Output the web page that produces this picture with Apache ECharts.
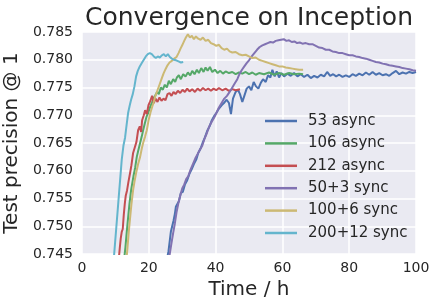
<!DOCTYPE html>
<html>
<head>
<meta charset="utf-8">
<script src="https://cdn.jsdelivr.net/npm/echarts@6/dist/echarts.min.js"></script>
<style>html,body{margin:0;padding:0;background:#fff}#c{width:437px;height:307px}</style>
</head>
<body>
<div id="c"></div>
<script>
const seriesNames = ['53 async', '106 async', '212 async', '50+3 sync', '100+6 sync', '200+12 sync'];
const xTicks = [0, 20, 40, 60, 80, 100];
const yTicks = [0.745, 0.750, 0.755, 0.760, 0.765, 0.770, 0.775, 0.780, 0.785];

const async53 = [[25.4,0.744],[25.9,0.7455],[26.3,0.7475],[26.6,0.7490],[27.0,0.7488],[27.4,0.7510],[27.8,0.7522],[28.1,0.7535],[28.6,0.7532],[29.0,0.7545],[29.6,0.7560],[30.2,0.7562],[30.8,0.7575],[31.5,0.7583],[32.2,0.7595],[32.8,0.7602],[33.5,0.7612],[34.2,0.7620],[34.8,0.7632],[35.5,0.7640],[36.1,0.7650],[36.8,0.7660],[37.5,0.7672],[38.2,0.7680],[38.8,0.7690],[39.5,0.7698],[40.3,0.7705],[41.0,0.7712],[41.8,0.7718],[42.5,0.7722],[43.3,0.7728],[44.0,0.7722],[44.6,0.7702],[45.2,0.7730],[46.0,0.7742],[46.7,0.7746],[47.3,0.7738],[48.0,0.7724],[48.6,0.7735],[49.3,0.7748],[50.0,0.7752],[50.7,0.7745],[51.4,0.7760],[52.1,0.7752],[52.8,0.7748],[53.5,0.7758],[54.2,0.7765],[55.0,0.7760],[55.7,0.7772],[56.4,0.7768],[57.0,0.7782],[57.7,0.7770],[58.3,0.7779],[59.0,0.7768],[59.7,0.7776],[60.5,0.7770],[61.5,0.7775],[62.5,0.7771],[63.5,0.7776],[64.5,0.7770],[65.5,0.7774],[66.5,0.7769],[67.5,0.7773],[68.5,0.7767],[69.5,0.7771],[70.5,0.7768],[71.5,0.7773],[72.5,0.7770],[73.4,0.7778],[74.3,0.7771],[75.2,0.7774],[76.1,0.7770],[77.0,0.7773],[78.0,0.7769],[79.0,0.7772],[80.0,0.7769],[81.0,0.7774],[82.0,0.7771],[83.0,0.7775],[84.0,0.7772],[85.0,0.7777],[86.0,0.7773],[87.0,0.7778],[88.0,0.7773],[89.0,0.7776],[90.0,0.7772],[91.0,0.7774],[92.0,0.7771],[93.0,0.7776],[94.0,0.7780],[95.0,0.7774],[96.0,0.7777],[97.0,0.7775],[98.0,0.7778],[99.0,0.7776],[100.0,0.7778]];

const async106 = [[12.6,0.744],[13.0,0.7462],[13.4,0.7490],[13.8,0.7515],[14.2,0.7540],[14.7,0.7565],[15.0,0.7568],[15.4,0.7590],[15.9,0.7605],[16.4,0.7625],[16.9,0.7638],[17.4,0.7650],[17.9,0.7662],[18.3,0.7673],[18.8,0.7685],[19.3,0.7697],[19.8,0.7704],[20.4,0.7715],[20.9,0.7722],[21.4,0.7730],[21.9,0.7735],[22.5,0.7742],[23.0,0.7738],[23.6,0.7750],[24.2,0.7746],[24.8,0.7755],[25.4,0.7750],[26.0,0.7762],[26.6,0.7756],[27.3,0.7765],[27.9,0.7760],[28.4,0.7768],[29.0,0.7772],[29.6,0.7765],[30.3,0.7774],[31.0,0.7770],[31.7,0.7777],[32.4,0.7772],[33.0,0.7780],[33.7,0.7774],[34.4,0.7782],[35.0,0.7776],[35.7,0.7785],[36.4,0.7778],[37.0,0.7786],[37.6,0.7780],[38.3,0.7787],[39.0,0.7778],[39.8,0.7782],[40.6,0.7776],[41.4,0.7780],[42.2,0.7775],[43.0,0.7779],[44.0,0.7776],[45.0,0.7778],[46.0,0.7774],[47.0,0.7777],[48.0,0.7775],[49.0,0.7778],[50.0,0.7774],[51.0,0.7777],[52.0,0.7773],[53.0,0.7776],[54.5,0.7774],[56.0,0.7777],[57.5,0.7773],[59.0,0.7776],[60.5,0.7773],[62.0,0.7776],[63.5,0.7774],[65.0,0.7775],[66.2,0.7774]];

const async212 = [[11.0,0.744],[11.3,0.7460],[11.6,0.7478],[11.9,0.7490],[12.2,0.7495],[12.5,0.7520],[12.8,0.7540],[13.1,0.7555],[13.5,0.7565],[13.9,0.7580],[14.4,0.7596],[14.8,0.7610],[15.3,0.7632],[15.8,0.7642],[16.3,0.7652],[16.8,0.7673],[17.3,0.7680],[17.7,0.7670],[18.0,0.7691],[18.5,0.7700],[18.9,0.7709],[19.4,0.7702],[19.9,0.7718],[20.4,0.7725],[21.0,0.7735],[21.5,0.7722],[22.0,0.7730],[22.6,0.7724],[23.2,0.7732],[23.8,0.7726],[24.4,0.7730],[25.0,0.7727],[25.6,0.7738],[26.2,0.7740],[26.8,0.7735],[27.4,0.7742],[28.0,0.7738],[28.7,0.7744],[29.4,0.7740],[30.1,0.7746],[30.8,0.7742],[31.5,0.7748],[32.2,0.7743],[33.0,0.7747],[33.8,0.7742],[34.6,0.7748],[35.4,0.7744],[36.2,0.7749],[37.0,0.7745],[37.8,0.7748],[38.6,0.7744],[39.4,0.7748],[40.2,0.7745],[41.0,0.7749],[42.0,0.7745],[43.0,0.7748],[44.0,0.7744],[45.0,0.7747],[46.0,0.7745],[47.3,0.7747]];

const sync50 = [[26.0,0.744],[26.4,0.7455],[26.8,0.7470],[27.3,0.7488],[27.8,0.7505],[28.3,0.7525],[28.8,0.7540],[29.4,0.7555],[30.0,0.7568],[30.6,0.7575],[31.2,0.7585],[31.8,0.7590],[32.5,0.7602],[33.2,0.7612],[33.9,0.7622],[34.6,0.7630],[35.3,0.7638],[36.0,0.7645],[36.7,0.7658],[37.4,0.7668],[38.1,0.7680],[38.8,0.7688],[39.5,0.7695],[40.3,0.7705],[41.0,0.7714],[41.8,0.7722],[42.6,0.7730],[43.4,0.7735],[44.2,0.7742],[45.0,0.7750],[45.8,0.7758],[46.5,0.7765],[47.2,0.7775],[47.9,0.7782],[48.6,0.7788],[49.3,0.7794],[50.0,0.7799],[50.8,0.7806],[51.6,0.7812],[52.4,0.7818],[53.2,0.7823],[54.0,0.7826],[54.8,0.7828],[55.6,0.7830],[56.4,0.7832],[57.2,0.7831],[58.0,0.7834],[58.8,0.7835],[59.6,0.7836],[60.4,0.7837],[61.2,0.7834],[62.0,0.7835],[62.8,0.7832],[63.6,0.7833],[64.4,0.7830],[65.2,0.7831],[66.0,0.7829],[67.0,0.7830],[68.0,0.7828],[69.0,0.7828],[70.0,0.7825],[71.0,0.7822],[72.0,0.7821],[73.0,0.7818],[74.0,0.7818],[75.0,0.7815],[76.0,0.7814],[77.0,0.7812],[78.0,0.7812],[79.0,0.7810],[80.0,0.7808],[81.0,0.7808],[82.0,0.7806],[83.0,0.7805],[84.0,0.7803],[85.0,0.7802],[86.0,0.7800],[87.0,0.7798],[88.0,0.7796],[89.0,0.7795],[90.0,0.7793],[91.0,0.7792],[92.0,0.7790],[93.0,0.7789],[94.0,0.7788],[95.0,0.7787],[96.0,0.7785],[97.0,0.7784],[98.0,0.7783],[99.0,0.7781],[100.0,0.7780]];

const sync100 = [[13.3,0.744],[13.6,0.7460],[14.0,0.7490],[14.4,0.7515],[14.8,0.7540],[15.3,0.7565],[15.7,0.7580],[16.2,0.7596],[16.8,0.7612],[17.4,0.7625],[17.9,0.7640],[18.3,0.7650],[18.9,0.7662],[19.4,0.7673],[19.9,0.7690],[20.5,0.7705],[21.0,0.7715],[21.4,0.7722],[22.0,0.7735],[22.6,0.7745],[23.2,0.7755],[23.8,0.7765],[24.4,0.7775],[25.0,0.7783],[25.6,0.7790],[26.2,0.7795],[26.9,0.7798],[27.6,0.7802],[28.3,0.7805],[28.9,0.7812],[29.5,0.7820],[30.0,0.7826],[30.6,0.7834],[31.1,0.7840],[31.7,0.7846],[32.3,0.7840],[32.9,0.7843],[33.5,0.7837],[34.1,0.7842],[34.8,0.7838],[35.5,0.7836],[36.2,0.7840],[37.0,0.7834],[37.8,0.7836],[38.6,0.7830],[39.4,0.7828],[40.2,0.7825],[41.0,0.7827],[41.8,0.7821],[42.6,0.7818],[43.4,0.7820],[44.2,0.7815],[45.0,0.7813],[46.0,0.7814],[47.0,0.7810],[48.0,0.7808],[49.0,0.7809],[50.0,0.7806],[51.0,0.7803],[52.0,0.7804],[53.0,0.7800],[54.0,0.7798],[55.0,0.7796],[56.0,0.7794],[57.0,0.7792],[58.0,0.7790],[59.0,0.7788],[60.0,0.7788],[61.0,0.7786],[62.0,0.7785],[63.0,0.7784],[64.0,0.7783],[65.0,0.7782],[66.2,0.7782]];

const sync200 = [[9.5,0.744],[9.9,0.7470],[10.3,0.7500],[10.7,0.7530],[11.1,0.7560],[11.5,0.7590],[11.9,0.7620],[12.4,0.7645],[12.9,0.7660],[13.3,0.7680],[13.8,0.7704],[14.3,0.7718],[14.7,0.7728],[15.2,0.7738],[15.7,0.7752],[16.2,0.7770],[16.7,0.7780],[17.3,0.7788],[17.9,0.7794],[18.5,0.7800],[19.1,0.7806],[19.7,0.7810],[20.3,0.7812],[20.9,0.7810],[21.5,0.7806],[22.1,0.7803],[22.7,0.7806],[23.3,0.7804],[23.9,0.7808],[24.5,0.7810],[25.1,0.7806],[25.7,0.7810],[26.3,0.7805],[26.9,0.7802],[27.5,0.7800],[28.2,0.7799],[28.9,0.7797],[29.6,0.7795],[30.3,0.7796]];

const seriesData = [async53, async106, async212, sync50, sync100, sync200];
const colors = ['#4C72B0', '#55A868', '#C44E52', '#8172B2', '#CCB974', '#64B5CD'];
const textColor = '#262626';
const font = 'DejaVu Sans';

const chart = echarts.init(document.getElementById('c'), null, {renderer: 'canvas'});
chart.setOption({
  animation: false,
  backgroundColor: '#ffffff',
  color: colors,
  title: {
    text: 'Convergence on Inception',
    left: 244, top: 1, textAlign: 'center',
    textStyle: {fontFamily: font, fontSize: 25, fontWeight: 'normal', color: textColor}
  },
  grid: {left: 82, right: 21, top: 32, bottom: 53, show: true, backgroundColor: '#EAEAF2', borderWidth: 0,
         containLabel: false, outerBoundsMode: 'none'},
  legend: {
    orient: 'vertical', left: 260, top: 107,
    icon: 'rect', itemWidth: 32, itemHeight: 2.5, itemGap: 4.4,
    textStyle: {fontFamily: font, fontSize: 15, color: textColor, lineHeight: 18, padding: [0, 0, 0, 6]},
    data: seriesNames
  },
  xAxis: {
    type: 'value', min: xTicks[0], max: xTicks[xTicks.length - 1], interval: 20,
    name: 'Time / h', nameLocation: 'middle', nameGap: 23,
    nameTextStyle: {fontFamily: font, fontSize: 20, color: textColor},
    axisLine: {show: false}, axisTick: {show: false},
    axisLabel: {fontFamily: font, fontSize: 14, color: textColor, margin: 7},
    splitLine: {show: true, lineStyle: {color: '#ffffff', width: 1.5}}
  },
  yAxis: {
    type: 'value', min: yTicks[0], max: yTicks[yTicks.length - 1], interval: 0.005,
    name: 'Test precision @ 1', nameLocation: 'middle', nameGap: 49,
    nameTextStyle: {fontFamily: font, fontSize: 20, color: textColor},
    axisLine: {show: false}, axisTick: {show: false},
    axisLabel: {fontFamily: font, fontSize: 14, color: textColor, margin: 9, formatter: v => v.toFixed(3)},
    splitLine: {show: true, lineStyle: {color: '#ffffff', width: 1.5}}
  },
  series: seriesNames.map((n, i) => ({
    name: n, type: 'line', data: seriesData[i], symbol: 'none', clip: true,
    lineStyle: {width: 2, color: colors[i]}, itemStyle: {color: colors[i]}
  }))
});
</script>
</body>
</html>
